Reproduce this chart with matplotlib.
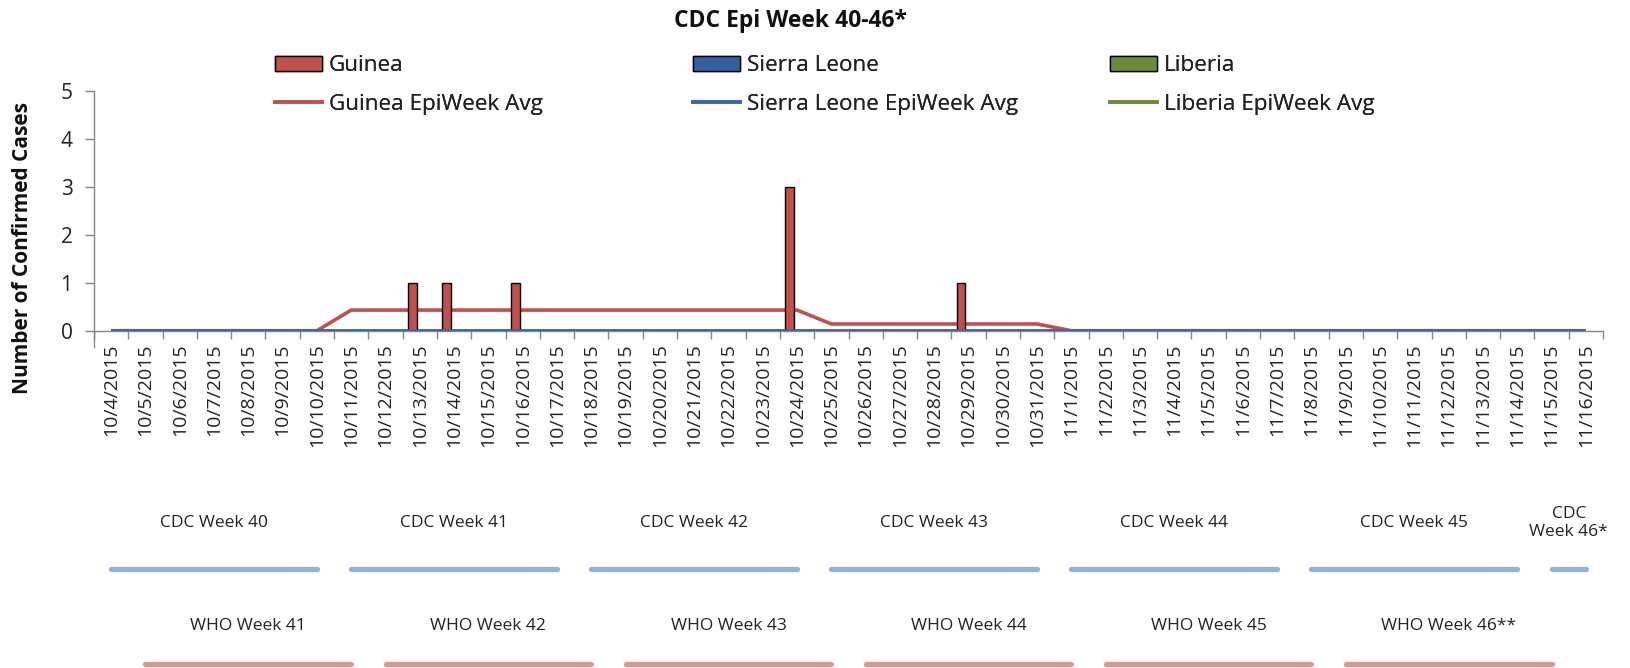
import numpy as np
import pandas as pd
import matplotlib
matplotlib.use("Agg")
import matplotlib.pyplot as plt
from matplotlib.patches import Patch
from matplotlib.lines import Line2D
from matplotlib.transforms import blended_transform_factory

plt.rcParams['font.family'] = ['Open Sans', 'DejaVu Sans']

# ==============================
# data
# ==============================
dates = pd.date_range('2015-10-04', '2015-11-16', freq='D')
date_labels = [f"{d.month}/{d.day}/{d.year}" for d in dates]

# confirmed cases per day (only Guinea has cases)
guinea_days = ['10/13/2015', '10/14/2015', '10/16/2015', '10/24/2015', '10/29/2015']
guinea_counts = [1, 1, 1, 3, 1]

guinea_cases = [guinea_counts[guinea_days.index(d)] if d in guinea_days else 0 for d in date_labels]
sierra_cases = [0] * len(date_labels)
liberia_cases = [0] * len(date_labels)

# epi week averages
guinea_avg = [0] * 7 + [0.43] * 14 + [0.14] * 7 + [0] * 16
sierra_avg = [0] * 44
liberia_avg = [0] * 44

# week spans below the chart (first day, last day)
cdc_labels = ['CDC Week 40', 'CDC Week 41', 'CDC Week 42', 'CDC Week 43',
              'CDC Week 44', 'CDC Week 45', 'CDC\nWeek 46*']
cdc_start = ['10/4/2015', '10/11/2015', '10/18/2015', '10/25/2015', '11/1/2015', '11/8/2015', '11/15/2015']
cdc_end = ['10/10/2015', '10/17/2015', '10/24/2015', '10/31/2015', '11/7/2015', '11/14/2015', '11/16/2015']

who_labels = ['WHO Week 41', 'WHO Week 42', 'WHO Week 43', 'WHO Week 44', 'WHO Week 45', 'WHO Week 46**']
who_start = ['10/5/2015', '10/12/2015', '10/19/2015', '10/26/2015', '11/2/2015', '11/9/2015']
who_end = ['10/11/2015', '10/18/2015', '10/25/2015', '11/1/2015', '11/8/2015', '11/15/2015']

# ==============================
# colours
# ==============================
RED = '#C0504D'
BLUE = '#335E99'
LINE_BLUE = '#3A67A6'
GREEN = '#6B8B38'
AXIS_GRAY = '#868686'
CDC_BAR = '#95B3D7'
WHO_BAR = '#D99694'

# ==============================
# figure
# ==============================
W, H = 1630, 668
fig = plt.figure(figsize=(W / 100, H / 100), dpi=100)
ax = fig.add_axes([94 / W, 1 - 330.7 / H, (1603 - 94) / W, (330.7 - 90.7) / H])

x = np.arange(len(date_labels))
off = 0.22
bw = 0.26


def edge_widths(vals):
    return [1.0 if v > 0 else 0 for v in vals]


ax.bar(x - off, guinea_cases, width=bw, color=RED, edgecolor='black',
       linewidth=edge_widths(guinea_cases), zorder=3)
ax.bar(x, sierra_cases, width=bw, color=BLUE, edgecolor='black',
       linewidth=edge_widths(sierra_cases), zorder=3)
ax.bar(x + off, liberia_cases, width=bw, color=GREEN, edgecolor='black',
       linewidth=edge_widths(liberia_cases), zorder=3)

ax.plot(x, liberia_avg, color=GREEN, lw=2.6, zorder=1.5, solid_capstyle='butt')
ax.plot(x, guinea_avg, color=RED, lw=2.6, zorder=2, solid_capstyle='butt')
ax.plot(x, sierra_avg, color=LINE_BLUE, lw=2.6, zorder=4, solid_capstyle='butt')

ax.set_xlim(-0.5, len(date_labels) - 0.5)
ax.set_ylim(0, 5)

for s in ['top', 'right']:
    ax.spines[s].set_visible(False)
for s in ['left', 'bottom']:
    ax.spines[s].set_color(AXIS_GRAY)
    ax.spines[s].set_linewidth(1.0)
ax.spines['left'].set_bounds(-0.33, 5)

# category boundaries as ticks, labels at centres
ax.set_xticks(np.arange(-0.5, len(date_labels), 1))
ax.set_xticklabels([])
ax.set_xticks(x, minor=True)
ax.set_xticklabels(date_labels, minor=True, rotation=90, fontsize=14, color='#222222')
ax.tick_params(axis='x', which='major', length=5.5, width=1, color=AXIS_GRAY, direction='out')
ax.tick_params(axis='x', which='minor', length=0, pad=9)

ax.set_yticks(range(0, 6))
ax.tick_params(axis='y', length=6.5, width=1, color=AXIS_GRAY, direction='out', pad=9,
               labelsize=15, labelcolor='#222222')

# ==============================
# title, axis label, legend
# ==============================
fig.text(790 / W, 1 - 20.7 / H, 'CDC Epi Week 40-46*', ha='center', va='center',
         fontsize=16.5, fontweight='bold', color='#111111')
fig.text(23 / W, 1 - 248 / H, 'Number of Confirmed Cases', rotation=90, ha='center', va='center',
         fontsize=15, fontweight='bold', color='#111111')

legend_cols = [
    (275, [Patch(facecolor=RED, edgecolor='black', lw=1), Line2D([], [], color=RED, lw=2.6)],
     ['Guinea', 'Guinea EpiWeek Avg']),
    (693, [Patch(facecolor=BLUE, edgecolor='black', lw=1), Line2D([], [], color=LINE_BLUE, lw=2.6)],
     ['Sierra Leone', 'Sierra Leone EpiWeek Avg']),
    (1110, [Patch(facecolor=GREEN, edgecolor='black', lw=1), Line2D([], [], color=GREEN, lw=2.6)],
     ['Liberia', 'Liberia EpiWeek Avg']),
]
for lx, handles, labels in legend_cols:
    leg = fig.legend(handles, labels, loc='upper left', bbox_to_anchor=(lx / W, 1 - 55 / H),
                     frameon=False, fontsize=16.2, handlelength=2.1, handleheight=0.65,
                     handletextpad=0.3, labelspacing=0.8, borderpad=0, borderaxespad=0)
    for t in leg.get_texts():
        t.set_color('#222222')
    fig.add_artist(leg)

# ==============================
# CDC / WHO week bands under the axis
# ==============================
trans = blended_transform_factory(ax.transData, fig.transFigure)

for lab, a, b in zip(cdc_labels, cdc_start, cdc_end):
    i0, i1 = date_labels.index(a), date_labels.index(b)
    ax.plot([i0, i1], [1 - 569 / H] * 2, transform=trans, color=CDC_BAR, lw=3.8,
            solid_capstyle='round', clip_on=False)
    ax.text((i0 + i1) / 2, 1 - 523 / H, lab, transform=trans, ha='center', va='center',
            fontsize=12.5, color='#222222', linespacing=1.25)

for lab, a, b in zip(who_labels, who_start, who_end):
    i0, i1 = date_labels.index(a), date_labels.index(b)
    ax.plot([i0, i1], [1 - 664 / H] * 2, transform=trans, color=WHO_BAR, lw=3.8,
            solid_capstyle='round', clip_on=False)
    ax.text((i0 + i1) / 2, 1 - 626 / H, lab, transform=trans, ha='center', va='center',
            fontsize=12.5, color='#222222')

fig.savefig('out.png', dpi=100)
